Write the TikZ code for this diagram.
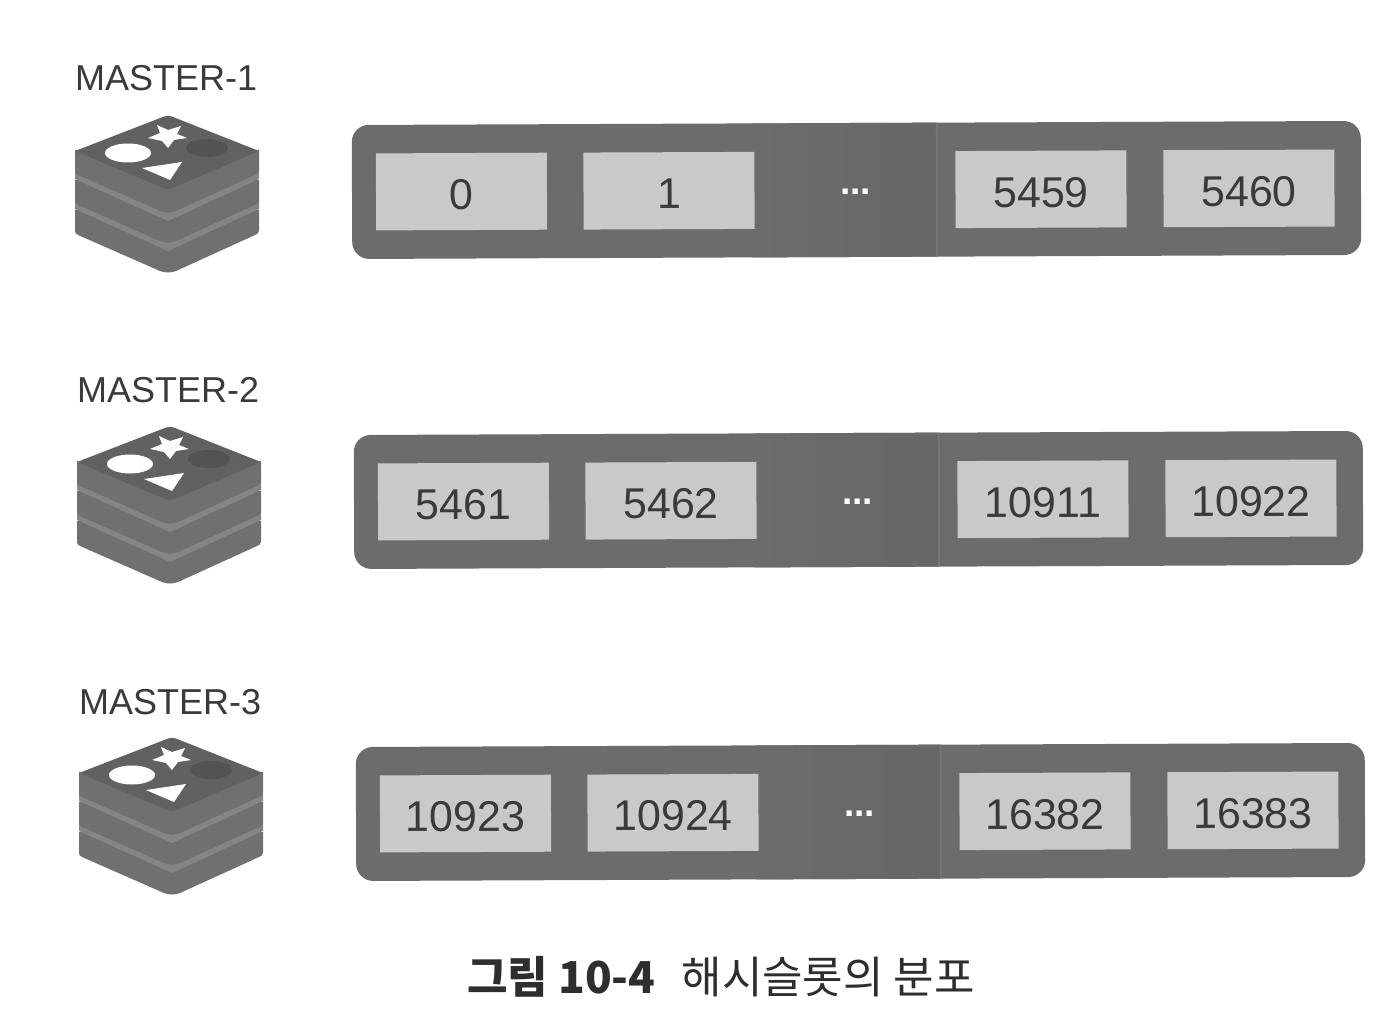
\documentclass[tikz,border=0pt]{standalone}
\usepackage{fontspec}
\setmainfont{Liberation Sans}
\newfontfamily\cjk{Noto Sans CJK KR}
\usetikzlibrary{shapes.geometric}
\definecolor{barc}{HTML}{6C6C6C}
\definecolor{barmid}{HTML}{676767}
\definecolor{seamc}{HTML}{767676}
\definecolor{slotc}{HTML}{C9C9C9}
\definecolor{inkc}{HTML}{3A3A3A}
\definecolor{capc}{HTML}{2E2E2E}
\definecolor{logotop}{HTML}{616161}
\definecolor{logoside}{HTML}{707070}
\definecolor{logogap}{HTML}{858585}
\definecolor{logodark}{HTML}{535353}
\tikzset{
  slotbox/.style={fill=slotc,draw=none,minimum width=171pt,minimum height=77pt,inner sep=0pt,text=inkc,text height=36pt,text depth=0pt,font=\fontsize{43}{43}\selectfont},
  dotsnode/.style={text=white,font=\bfseries\fontsize{37}{37}\selectfont,inner sep=0pt},
  masterlabel/.style={anchor=west,inner sep=0pt,text=inkc,font=\fontsize{36}{36}\selectfont},
  captionnode/.style={inner sep=0pt,text=capc,font=\cjk\fontsize{44}{44}\selectfont},
}
\newcommand{\logolayer}[2]{%
  \fill[#2] (75,-150-#1) -- (75,-171-#1) .. controls (75,-173-#1) and (76,-174-#1) .. (78,-175-#1)
    -- (160,-211-#1) .. controls (165,-213-#1) and (171,-213-#1) .. (176,-211-#1)
    -- (255,-175-#1) .. controls (257,-174-#1) and (259,-173-#1) .. (259,-171-#1) -- (259,-150-#1) -- cycle;
}
\newcommand{\logo}[2]{%
  \begin{scope}[shift={(#1,-#2)}]
    \logolayer{60}{logoside}
    \fill[logogap] (75,-201) -- (168,-243) -- (259,-201) -- (259,-209) -- (168,-251) -- (75,-209) -- cycle;
    \logolayer{30}{logoside}
    \fill[logogap] (75,-171) -- (168,-213) -- (259,-171) -- (259,-179) -- (168,-221) -- (75,-179) -- cycle;
    \logolayer{0}{logoside}
    \fill[logotop,rounded corners=4pt] (75,-151) -- (168,-115) -- (259,-151) -- (168,-190) -- cycle;
    \fill[white] (128,-153) ellipse [x radius=23,y radius=9.5];
    \fill[white] (142,-168) -- (182,-162) -- (170,-180) -- cycle;
    \fill[white] (157,-125) -- (168,-130) -- (181,-126) -- (177,-134) -- (187,-138) -- (174,-140) -- (168,-148) -- (162,-141) -- (148,-138) -- (160,-133) -- cycle;
    \fill[logodark] (207,-148) ellipse [x radius=21,y radius=9];
  \end{scope}
}
\newcommand{\slotrow}[7]{% #1 x shift, #2 y shift, #3 row id, #4-#7 labels
  \begin{scope}[shift={(352+#1,-192-#2)},rotate=0.23,transform shape]
    \fill[barc,rounded corners=17pt] (0,67) rectangle (1009,-67);
    \shade[left color=barc,right color=barmid] (400,67) rectangle (584,-67);
    \fill[seamc] (584,67) rectangle (586,-67);
    \node[slotbox] (s#3a) at (109.5,0) {#4};
    \node[slotbox] (s#3b) at (317,0) {#5};
    \node[dotsnode] (s#3c) at (503.5,-2) {...};
    \node[slotbox] (s#3d) at (689,0) {#6};
    \node[slotbox] (s#3e) at (897,0) {#7};
  \end{scope}
}
\begin{document}
\begin{tikzpicture}[x=1pt,y=1pt]
\useasboundingbox (0,0) rectangle (1384,-1024);
\fill[white] (0,0) rectangle (1384,-1024);

\node[masterlabel] (m1) at (75,-78) {MASTER-1};
\logo{0}{0}
\slotrow{0}{0}{1}{0}{1}{5459}{5460}

\node[masterlabel] (m2) at (77,-390) {MASTER-2};
\logo{2}{311}
\slotrow{2}{310}{2}{5461}{5462}{10911}{10922}

\node[masterlabel] (m3) at (79,-702) {MASTER-3};
\logo{4}{622}
\slotrow{4}{622}{3}{10923}{10924}{16382}{16383}

\node[captionnode] (cap) at (721,-977) {{\bfseries 그림 10-4}\hspace{26pt}해시슬롯의 분포};
\end{tikzpicture}
\end{document}
